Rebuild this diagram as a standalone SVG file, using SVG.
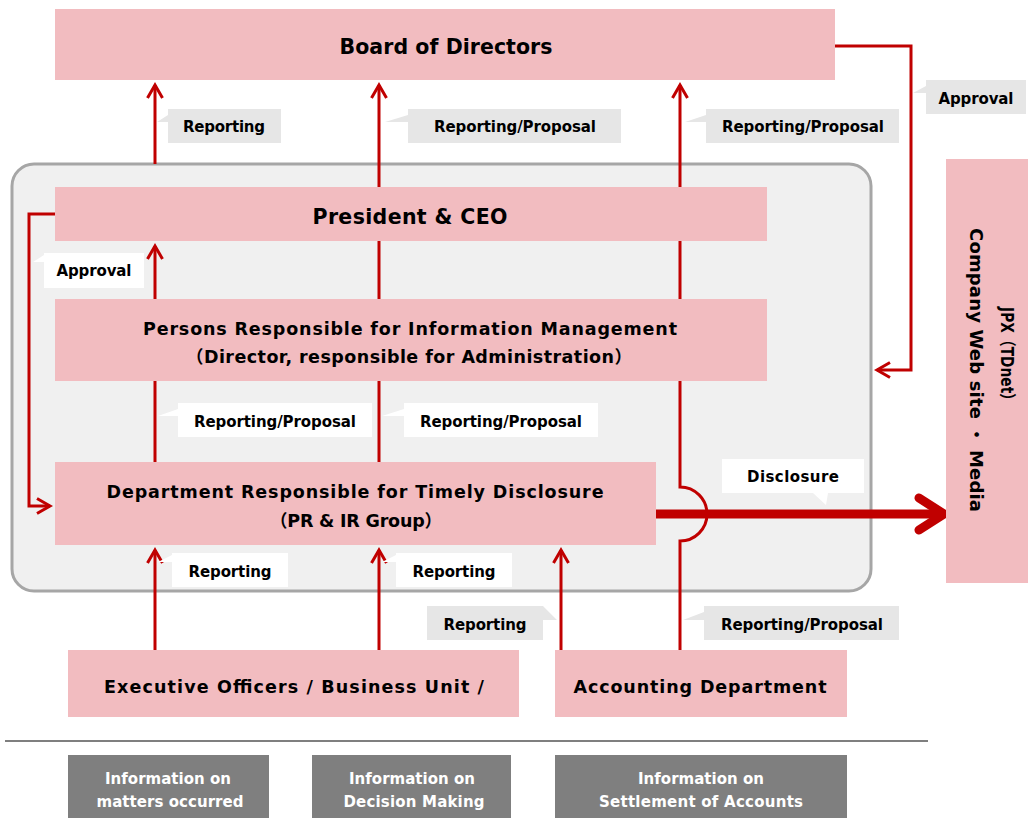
<svg xmlns="http://www.w3.org/2000/svg" width="1028" height="818" viewBox="0 0 1028 818">
<style>
.node{fill:#f2bcc0}
.t{font-family:"DejaVu Sans","Noto Sans CJK JP",sans-serif;font-weight:bold;fill:#000;text-anchor:middle}
.big{font-size:20.5px}
.mid{font-size:17.5px}
.lbl{font-size:15px}
.info{fill:#7f7f7f}
.it{font-family:"DejaVu Sans",sans-serif;font-weight:bold;font-size:15px;fill:#fff;text-anchor:middle}
.ln{fill:none;stroke:#c00000;stroke-width:3}
.gl{fill:#e6e6e6}
.wl{fill:#ffffff}
</style>
<defs>
<marker id="ah" viewBox="-20 -12 24 24" refX="0" refY="0" markerWidth="24" markerHeight="24" markerUnits="userSpaceOnUse" orient="auto">
<path d="M-13,-7.5 L0,0 L-13,7.5" fill="none" stroke="#c00000" stroke-width="3"/>
</marker>
</defs>
<rect width="1028" height="818" fill="#ffffff"/>

<g id="container">
<rect x="12" y="164" width="859" height="427" rx="22" ry="22" fill="#f0f0f0" stroke="#a6a6a6" stroke-width="3"/>
</g>

<g id="connectors">
<line class="ln" x1="155" y1="164" x2="155" y2="85" marker-end="url(#ah)"/>
<line class="ln" x1="155" y1="299" x2="155" y2="246" marker-end="url(#ah)"/>
<line class="ln" x1="155" y1="462" x2="155" y2="381"/>
<line class="ln" x1="155" y1="650" x2="155" y2="550" marker-end="url(#ah)"/>
<line class="ln" x1="379" y1="462" x2="379" y2="85" marker-end="url(#ah)"/>
<line class="ln" x1="379" y1="650" x2="379" y2="550" marker-end="url(#ah)"/>
<line class="ln" x1="561" y1="650" x2="561" y2="550" marker-end="url(#ah)"/>
<path class="ln" d="M680,650 V541 A27,27 0 0 0 680,487 V85" marker-end="url(#ah)"/>
<path class="ln" d="M55,214 H29 V506 H50" marker-end="url(#ah)"/>
<path class="ln" d="M835,46 H911 V370 H877" marker-end="url(#ah)"/>
<line x1="656" y1="514" x2="938" y2="514" stroke="#c00000" stroke-width="9"/>
<polyline points="919,498 944,514 919,530" fill="none" stroke="#c00000" stroke-width="9" stroke-linecap="round" stroke-linejoin="miter"/>
</g>

<g id="board">
<rect class="node" x="55" y="9" width="780" height="71"/>
<text class="t big" x="446" y="54" textLength="213" lengthAdjust="spacing">Board of Directors</text>
</g>
<g id="president">
<rect class="node" x="55" y="187" width="712" height="54"/>
<text class="t big" x="410" y="224" textLength="195" lengthAdjust="spacing">President &amp; CEO</text>
</g>
<g id="persons">
<rect class="node" x="55" y="299" width="712" height="82"/>
<text class="t mid" x="410" y="335" textLength="534" lengthAdjust="spacing">Persons Responsible for Information Management</text>
<text class="t mid" x="409" y="363" textLength="446" lengthAdjust="spacing">（Director, responsible for Administration）</text>
</g>
<g id="department">
<rect class="node" x="55" y="462" width="601" height="83"/>
<text class="t mid" x="355" y="498" textLength="497" lengthAdjust="spacing">Department Responsible for Timely Disclosure</text>
<text class="t mid" x="356" y="527" textLength="172" lengthAdjust="spacing">（PR &amp; IR Group）</text>
</g>
<g id="executive">
<rect class="node" x="68" y="650" width="451" height="67"/>
<text class="t mid" x="294" y="693" textLength="380" lengthAdjust="spacing">Executive Officers / Business Unit /</text>
</g>
<g id="accounting">
<rect class="node" x="555" y="650" width="292" height="67"/>
<text class="t mid" x="700" y="693" textLength="253" lengthAdjust="spacing">Accounting Department</text>
</g>
<g id="jpx">
<rect class="node" x="946" y="159" width="82" height="424"/>
<text class="t" style="font-size:17px" transform="translate(1001,357) rotate(90)" textLength="100" lengthAdjust="spacingAndGlyphs">JPX（TDnet）</text>
<text class="t" style="font-size:18px" transform="translate(970,370) rotate(90)" textLength="284" lengthAdjust="spacing">Company Web site ・ Media</text>
</g>

<g id="labels">
<path class="gl" d="M168,109 H281 V143 H168 V122 L157,122 L168,115 Z"/>
<text class="t lbl" x="224" y="132" textLength="82" lengthAdjust="spacing">Reporting</text>
<path class="gl" d="M408,109 H621 V143 H408 V122 L385,122 L408,115 Z"/>
<text class="t lbl" x="515" y="132" textLength="162" lengthAdjust="spacing">Reporting/Proposal</text>
<path class="gl" d="M706,109 H899 V143 H706 V122 L685,122 L706,115 Z"/>
<text class="t lbl" x="803" y="132" textLength="162" lengthAdjust="spacing">Reporting/Proposal</text>
<path class="gl" d="M926,80 H1026 V114 H926 V93 L913,93 L926,86 Z"/>
<text class="t lbl" x="976" y="104" textLength="75" lengthAdjust="spacing">Approval</text>
<path class="wl" d="M44,253 H144 V288 H44 V262 L33,262 L44,255 Z"/>
<text class="t lbl" x="94" y="276" textLength="75" lengthAdjust="spacing">Approval</text>
<path class="wl" d="M178,403 H372 V437 H178 V416 L158,416 L178,409 Z"/>
<text class="t lbl" x="275" y="427" textLength="162" lengthAdjust="spacing">Reporting/Proposal</text>
<path class="wl" d="M404,403 H598 V437 H404 V416 L382,416 L404,409 Z"/>
<text class="t lbl" x="501" y="427" textLength="162" lengthAdjust="spacing">Reporting/Proposal</text>
<path class="wl" d="M722,459 H864 V493 H828 L826,505 L813,493 H722 Z"/>
<text class="t lbl" x="793" y="482" textLength="92" lengthAdjust="spacing">Disclosure</text>
<path class="wl" d="M172,553 H288 V587 H172 V562 L158,562 L172,555 Z"/>
<text class="t lbl" x="230" y="577" textLength="83" lengthAdjust="spacing">Reporting</text>
<path class="wl" d="M396,553 H512 V587 H396 V562 L382,562 L396,555 Z"/>
<text class="t lbl" x="454" y="577" textLength="83" lengthAdjust="spacing">Reporting</text>
<path class="gl" d="M427,606 H543 L557,620 H543 V640 H427 Z"/>
<text class="t lbl" x="485" y="630" textLength="83" lengthAdjust="spacing">Reporting</text>
<path class="gl" d="M704,606 H899 V640 H704 V620 L683,620 L704,612 Z"/>
<text class="t lbl" x="802" y="630" textLength="162" lengthAdjust="spacing">Reporting/Proposal</text>
</g>

<line x1="5" y1="741" x2="928" y2="741" stroke="#000" stroke-width="1.2"/>

<g id="info1">
<rect class="info" x="68" y="755" width="201" height="63"/>
<text class="it" x="168" y="784" textLength="126" lengthAdjust="spacing">Information on</text>
<text class="it" x="170" y="807" textLength="147" lengthAdjust="spacing">matters occurred</text>
</g>
<g id="info2">
<rect class="info" x="312" y="755" width="199" height="63"/>
<text class="it" x="412" y="784" textLength="126" lengthAdjust="spacing">Information on</text>
<text class="it" x="414" y="807" textLength="141" lengthAdjust="spacing">Decision Making</text>
</g>
<g id="info3">
<rect class="info" x="555" y="755" width="292" height="63"/>
<text class="it" x="701" y="784" textLength="126" lengthAdjust="spacing">Information on</text>
<text class="it" x="701" y="807" textLength="204" lengthAdjust="spacing">Settlement of Accounts</text>
</g>
</svg>
